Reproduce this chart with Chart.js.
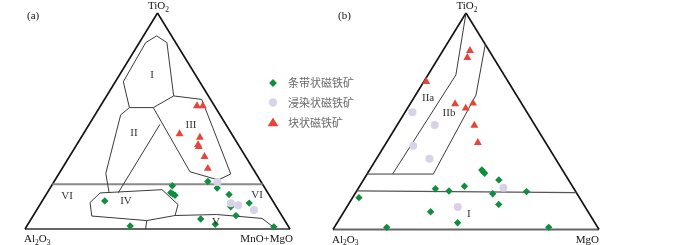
<!DOCTYPE html>
<html><head><meta charset="utf-8">
<script src="https://cdn.jsdelivr.net/npm/chart.js@4/dist/chart.umd.min.js"></script>
<style>
html,body{margin:0;padding:0;background:#fff;width:700px;height:245px;overflow:hidden}
canvas{position:absolute;left:0;top:0}
</style></head>
<body>
<canvas id="ca" width="700" height="245"></canvas>
<canvas id="cb" width="700" height="245"></canvas>
<script>
// Ternary data: each point is [TiO2 %, MnO+MgO (or MgO) %]; Al2O3 = 100 - the two.
const seriesNames = ['条带状磁铁矿', '浸染状磁铁矿', '块状磁铁矿'];

// Panel (a): TiO2 - Al2O3 - MnO+MgO
const aBanded = [[22,58],[19,63],[20,45.6],[16.8,46.6],[16.2,47.7],[15.6,48.8],[13,23.6],[16,69],[12,78.6],[10.3,72.5],[6.2,76.5],[4.6,64],[2.2,70.7],[1,93.4],[1.4,39]];
const aDisseminated = [[21.8,61.7],[11.9,71.7],[11,75],[8.8,82]];
const aMassive = [[57,36.4],[57,38.6],[44,36.3],[42.4,44.8],[38.1,46.5],[39,45.8],[33.5,51],[28,55]];

// Panel (b): TiO2 - Al2O3 - MgO
const bBanded = [[27.5,42.2],[26.6,43.2],[26,44],[22.9,50.9],[18.8,29.1],[17.8,34.7],[20,39.4],[16.5,51.8],[17.5,64],[14.7,2.4],[11.6,56.5],[8.2,32.6],[3.1,45.3],[1,19.7],[1,80.6]];
const bDisseminated = [[54.1,2.8],[48.3,14.1],[38.7,10.8],[32.7,19.9],[19.3,54.4],[10.4,41.7]];
const bMassive = [[82.6,10.2],[79.4,10.8],[68.3,0.9],[58,16.9],[56,21.9],[58.3,23.5],[48.1,29.1],[40.1,34.4]];

// Field boundaries, same [TiO2, MnO+MgO] convention
const triLeft = [[0,0],[100,0]];
const triRight = [[100,0],[0,100]];
const triBase = [[0,0],[0,100]];
const aFieldI = [[89.4,5],[86.3,10.4],[61.6,25.3],[56.2,20.3],[56.2,11.3],[68.2,3],[86.3,2.4],[89.4,5]];
const aFieldIII = [[61.6,25.3],[60,36.7],[25.5,64.9],[22.7,61.6],[26.5,49],[56.2,20.3]];
const aFieldIIleft = [[56.2,11.3],[52.8,9.7],[25.8,17.6],[17,23.2]];
const aFieldIIright = [[48.4,26.7],[16.8,26.8]];
const aFieldIV = [[16.7,20],[18.2,42.6],[11.3,52.1],[6.25,53.5],[3.9,44],[6,22.2],[12.3,18.4],[16.7,20]];
const aFieldVsplit = [[3.9,44],[0,45.5]];
const aFieldVtop = [[6.25,53.5],[6.7,69],[4.9,87],[0,94.7]];
const aDivide = [[20.7,0],[20.7,79.3]];
const bDivide = [[17.8,0],[17.0,83]];
const bUpper = [[25.6,0],[25.6,24.9]];
const bIIaIIb = [[100,0],[71.4,10.5],[25.6,9.6]];
const bIIbRight = [[85.5,14.5],[62.1,22.7],[25.6,24.9]];

// Field labels
const aLabelText = ['I','II','III','VI','IV','V','VI'];
const aLabelPos = [[71.3,12.3],[44.4,18.9],[48.1,38.6],[15.3,8.2],[13,31.6],[3.2,70.5],[15.7,79.7]];
const bLabelText = ['IIa','IIb','I'];
const bLabelPos = [[60.7,5.4],[53.8,16.7],[7.2,47.5]];

const GREEN = '#0f8f3e', LAV = '#d9d1e8', RED = '#e6463a';
const toXY = p => ({x: p[1] + p[0] / 2, y: p[0]});

function pointSet(arr, color, style, r, label) {
  return {type: 'scatter', label, data: arr.map(toXY), backgroundColor: color, borderColor: color,
    borderWidth: 0, pointStyle: style, pointRadius: r, clip: false};
}
function lineSet(arr, color, w) {
  return {type: 'line', data: arr.map(toXY), borderColor: color, borderWidth: w, pointRadius: 0,
    fill: false, tension: 0, clip: false, showLine: true};
}

function drawFormula(ctx, parts, x, y, align) {
  const big = '11px "Liberation Serif"', small = '7.5px "Liberation Serif"';
  let w = 0;
  parts.forEach(p => { ctx.font = p[1] ? small : big; w += ctx.measureText(p[0]).width; });
  let cx = align === 'center' ? x - w / 2 : align === 'right' ? x - w : x;
  ctx.textAlign = 'left'; ctx.textBaseline = 'alphabetic'; ctx.fillStyle = '#111';
  parts.forEach(p => {
    ctx.font = p[1] ? small : big;
    ctx.fillText(p[0], cx, y + (p[1] ? 2.5 : 0));
    cx += ctx.measureText(p[0]).width;
  });
}

function marker(ctx, style, x, y, r, color) {
  ctx.fillStyle = color; ctx.beginPath();
  if (style === 'rectRot') { ctx.moveTo(x, y - r); ctx.lineTo(x + r, y); ctx.lineTo(x, y + r); ctx.lineTo(x - r, y); }
  else if (style === 'triangle') { ctx.moveTo(x, y - r); ctx.lineTo(x + r * 0.95, y + r * 0.6); ctx.lineTo(x - r * 0.95, y + r * 0.6); }
  else { ctx.arc(x, y, r, 0, Math.PI * 2); }
  ctx.closePath(); ctx.fill();
}

function textPlugin(panel) {
  return {
    id: 'txt' + panel,
    afterDatasetsDraw(chart) {
      const ctx = chart.ctx, sx = chart.scales.x, sy = chart.scales.y;
      const px = p => sx.getPixelForValue(p[1] + p[0] / 2), py = p => sy.getPixelForValue(p[0]);
      const apexX = sx.getPixelForValue(50), topY = sy.getPixelForValue(100);
      const leftX = sx.getPixelForValue(0), rightX = sx.getPixelForValue(100), baseY = sy.getPixelForValue(0);
      ctx.save();
      const texts = panel === 'a' ? aLabelText : bLabelText;
      const pos = panel === 'a' ? aLabelPos : bLabelPos;
      ctx.font = '11px "Liberation Serif"'; ctx.fillStyle = '#333'; ctx.textAlign = 'center'; ctx.textBaseline = 'middle';
      texts.forEach((t, i) => ctx.fillText(t, px(pos[i]), py(pos[i])));
      drawFormula(ctx, [['TiO',0],['2',1]], apexX + 1, topY - 4, 'center');
      drawFormula(ctx, [['Al',0],['2',1],['O',0],['3',1]], leftX - 1, baseY + 13, 'left');
      if (panel === 'a') {
        drawFormula(ctx, [['MnO+MgO',0]], rightX + 3, baseY + 13, 'right');
        ctx.font = '11px "Liberation Serif"'; ctx.fillStyle = '#111'; ctx.textAlign = 'left'; ctx.textBaseline = 'middle';
        ctx.fillText('(a)', leftX + 2, topY + 3);
        // legend
        const styles = ['rectRot', 'circle', 'triangle'], cols = [GREEN, LAV, RED], rs = [3.9, 4.2, 5.6];
        const lx = rightX - 17, ly = [topY + 70, topY + 89.5, topY + 110];
        styles.forEach((s, i) => {
          marker(ctx, s, lx, ly[i], rs[i], cols[i]);
          ctx.font = '11px "Noto Sans CJK SC"'; ctx.fillStyle = '#6a6a6a'; ctx.textAlign = 'left'; ctx.textBaseline = 'middle';
          ctx.fillText(seriesNames[i], lx + 15, ly[i]);
        });
      } else {
        drawFormula(ctx, [['MgO',0]], rightX, baseY + 13, 'right');
        ctx.font = '11px "Liberation Serif"'; ctx.fillStyle = '#111'; ctx.textAlign = 'left'; ctx.textBaseline = 'middle';
        ctx.fillText('(b)', leftX + 5, topY + 3);
      }
      ctx.restore();
    }
  };
}

function makeChart(id, panel, padding, banded, dissem, massive, lines) {
  const datasets = [
    pointSet(massive, RED, 'triangle', 4.6, seriesNames[2]),
    pointSet(dissem, LAV, 'circle', 4, seriesNames[1]),
    pointSet(banded, GREEN, 'rectRot', 3.7, seriesNames[0])
  ].concat(lines);
  return new Chart(document.getElementById(id), {
    type: 'scatter',
    data: {datasets},
    options: {
      responsive: false, animation: false, events: [],
      layout: {padding},
      plugins: {legend: {display: false}, tooltip: {enabled: false}},
      scales: {
        x: {type: 'linear', min: 0, max: 100, display: false},
        y: {type: 'linear', min: 0, max: 100, display: false}
      }
    },
    plugins: [textPlugin(panel)]
  });
}

const INNER = '#3a3a3a', GRAY = '#8a8a8a', EDGE = '#111';
makeChart('ca', 'a', {left: 25, right: 410, top: 13, bottom: 16}, aBanded, aDisseminated, aMassive, [
  lineSet(aFieldI, INNER, 1), lineSet(aFieldIII, INNER, 1), lineSet(aFieldIIleft, INNER, 1),
  lineSet(aFieldIIright, INNER, 1), lineSet(aFieldIV, INNER, 1), lineSet(aFieldVsplit, INNER, 1),
  lineSet(aFieldVtop, INNER, 1), lineSet(aDivide, GRAY, 2),
  lineSet(triLeft, EDGE, 1.6), lineSet(triRight, EDGE, 1.6), lineSet(triBase, '#666', 2)
]);
makeChart('cb', 'b', {left: 333, right: 101, top: 13, bottom: 15.5}, bBanded, bDisseminated, bMassive, [
  lineSet(bUpper, INNER, 1), lineSet(bIIaIIb, INNER, 1), lineSet(bIIbRight, INNER, 1),
  lineSet(bDivide, '#555', 1.3),
  lineSet(triLeft, EDGE, 1.6), lineSet(triRight, EDGE, 1.6), lineSet(triBase, '#666', 2)
]);
</script>
</body></html>
